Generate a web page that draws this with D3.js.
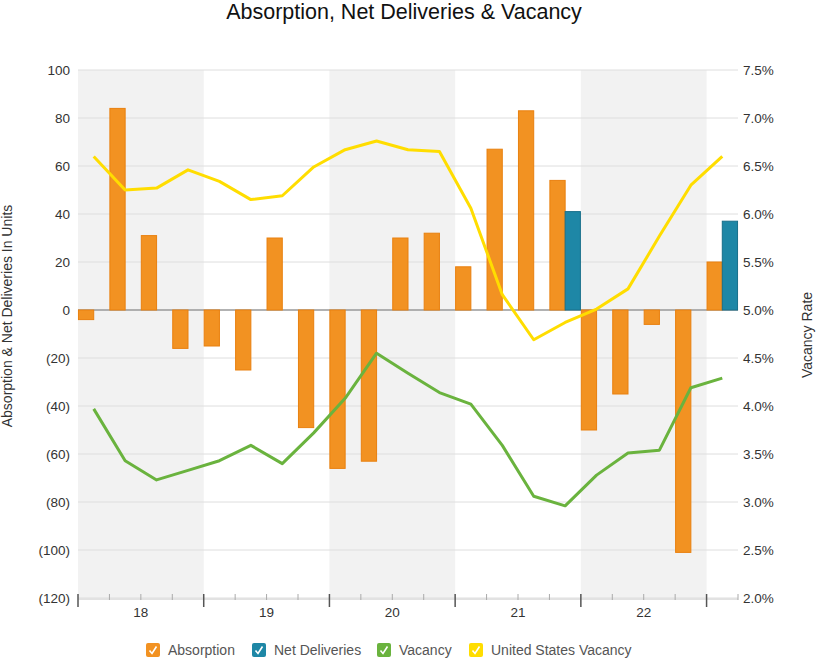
<!DOCTYPE html>
<html><head><meta charset="utf-8">
<script src="https://cdn.jsdelivr.net/npm/d3@7"></script>
<style>
body{margin:0;background:#fff;font-family:"Liberation Sans",Arial,sans-serif;}
</style></head>
<body><svg id="c" width="820" height="659"></svg>
<script>
const quarters = ["18Q1","18Q2","18Q3","18Q4","19Q1","19Q2","19Q3","19Q4","20Q1","20Q2","20Q3","20Q4","21Q1","21Q2","21Q3","21Q4","22Q1","22Q2","22Q3","22Q4","23Q1"];
const years = ["18","19","20","21","22"];
const absorption = [-4,84,31,-16,-15,-25,30,-49,-66,-63,30,32,18,67,83,54,-50,-35,-6,-101,20];
const netDeliveries = [0,0,0,0,0,0,0,0,0,0,0,0,0,0,0,41,0,0,0,0,37];
const vacancy = [3.97,3.43,3.23,3.33,3.43,3.59,3.40,3.72,4.08,4.55,4.34,4.14,4.02,3.59,3.06,2.96,3.28,3.51,3.54,4.19,4.29];
const usVacancy = [6.60,6.25,6.27,6.46,6.34,6.15,6.19,6.49,6.67,6.76,6.67,6.65,6.06,5.16,4.69,4.87,5.01,5.22,5.77,6.30,6.60];
const leftTicks = [100,80,60,40,20,0,-20,-40,-60,-80,-100,-120];
const rightTicks = [7.5,7.0,6.5,6.0,5.5,5.0,4.5,4.0,3.5,3.0,2.5,2.0];

const svg = d3.select("#c");
const L = 78, R = 738, T = 70, B = 598;
const x = d3.scaleBand().domain(quarters).range([L, R]);
const xs = d3.scaleBand().domain(["a","n"]).range([0, x.bandwidth()]).paddingInner(0).paddingOuter(0.03);
const y = d3.scaleLinear().domain([-120, 100]).range([B, T]);
const y2 = d3.scaleLinear().domain([2.0, 7.5]).range([B, T]);

years.forEach((yr, i) => {
  if (i % 2 === 0) {
    svg.append("rect").attr("x", x(quarters[i*4])).attr("y", T)
      .attr("width", x.bandwidth()*4).attr("height", B - T).attr("fill", "#f2f2f2");
  }
});

svg.append("g").selectAll("line").data(leftTicks).join("line")
  .attr("x1", L).attr("x2", R).attr("y1", d => y(d)).attr("y2", d => y(d))
  .attr("stroke", d => d === 0 ? "#999" : "#dedede").attr("stroke-width", d => d === 0 ? 1.5 : 1);

const fmtL = d => d < 0 ? "(" + Math.abs(d) + ")" : String(d);
const gl = svg.append("g").attr("transform", `translate(${L},0)`)
  .call(d3.axisLeft(y).tickValues(leftTicks).tickFormat(fmtL).tickSize(0).tickPadding(8));
gl.select(".domain").remove();
gl.selectAll("text").attr("font-size", 13.5).attr("fill", "#333").attr("font-family", "Liberation Sans, Arial, sans-serif");

const gr = svg.append("g").attr("transform", `translate(${R},0)`)
  .call(d3.axisRight(y2).tickValues(rightTicks).tickFormat(d => d.toFixed(1) + "%").tickSize(0).tickPadding(5));
gr.select(".domain").remove();
gr.selectAll("text").attr("font-size", 13.5).attr("fill", "#333").attr("font-family", "Liberation Sans, Arial, sans-serif");

const barG = svg.append("g");
barG.selectAll("rect.a").data(absorption).join("rect").attr("class","a")
  .attr("x", (d,i) => x(quarters[i]) + xs("a"))
  .attr("width", xs.bandwidth())
  .attr("y", d => y(Math.max(0,d)))
  .attr("height", d => Math.abs(y(d) - y(0)))
  .attr("fill", "#f29222").attr("stroke", "#e9800f").attr("stroke-width", 1);
const ndIdx = netDeliveries.map((d,i) => ({d, i})).filter(o => o.d !== 0);
barG.selectAll("rect.n").data(ndIdx).join("rect").attr("class","n")
  .attr("x", o => x(quarters[o.i]) + xs("n"))
  .attr("width", xs.bandwidth())
  .attr("y", o => y(Math.max(0,o.d)))
  .attr("height", o => Math.abs(y(o.d) - y(0)))
  .attr("fill", "#1e87a6").attr("stroke", "#186f8a").attr("stroke-width", 1);

const cx = i => x(quarters[i]) + x.bandwidth()/2;
const line = d3.line().x((d,i) => cx(i)).y(d => y2(d));
svg.append("path").datum(usVacancy).attr("d", line).attr("fill","none")
  .attr("stroke","#ffdd00").attr("stroke-width",3).attr("stroke-linejoin","round");
svg.append("path").datum(vacancy).attr("d", line).attr("fill","none")
  .attr("stroke","#6ab33e").attr("stroke-width",3).attr("stroke-linejoin","round");

svg.append("line").attr("x1", L).attr("x2", R).attr("y1", B+1).attr("y2", B+1).attr("stroke","#e2e2e2").attr("stroke-width",2);
const bounds = quarters.map(q => x(q)).concat([R]);
svg.append("g").selectAll("line").data(bounds).join("line")
  .attr("x1", d => d).attr("x2", d => d)
  .attr("y1", 594)
  .attr("y2", (d,i) => i % 4 === 0 ? 607 : 600)
  .attr("stroke", (d,i) => i % 4 === 0 ? "#555" : "#aaa").attr("stroke-width", (d,i) => i % 4 === 0 ? 1.5 : 1);
svg.append("g").selectAll("text").data(years).join("text")
  .attr("x", (d,i) => x(quarters[i*4]) + x.bandwidth()*2)
  .attr("y", 617).attr("text-anchor","middle").attr("font-size",13.5).attr("fill","#333").text(d => d);

svg.append("text").attr("x", 404).attr("y", 19).attr("text-anchor","middle")
  .attr("font-size", 21.5).attr("fill","#111").text("Absorption, Net Deliveries & Vacancy");

svg.append("text").attr("transform", `translate(12,${(T+B)/2 - 18}) rotate(-90)`).attr("text-anchor","middle")
  .attr("font-size",14).attr("fill","#333").text("Absorption & Net Deliveries In Units");
svg.append("text").attr("transform", `translate(812,335) rotate(-90)`).attr("text-anchor","middle")
  .attr("font-size",14).attr("fill","#333").text("Vacancy Rate");

const legend = [
  {name:"Absorption", color:"#f29222", x:146},
  {name:"Net Deliveries", color:"#1e87a6", x:252},
  {name:"Vacancy", color:"#6ab33e", x:377},
  {name:"United States Vacancy", color:"#ffdd00", x:469}
];
const lg = svg.append("g").selectAll("g").data(legend).join("g")
  .attr("transform", d => `translate(${d.x},643)`);
lg.append("rect").attr("width",14).attr("height",14).attr("rx",2).attr("fill", d => d.color);
lg.append("path").attr("d","M3.5,7.5 L6,10.5 L10.5,3.5").attr("fill","none").attr("stroke","#fff").attr("stroke-width",1.6);
lg.append("text").attr("x",22).attr("y",12).attr("font-size",14).attr("fill","#555").text(d => d.name);
</script>
</body></html>
